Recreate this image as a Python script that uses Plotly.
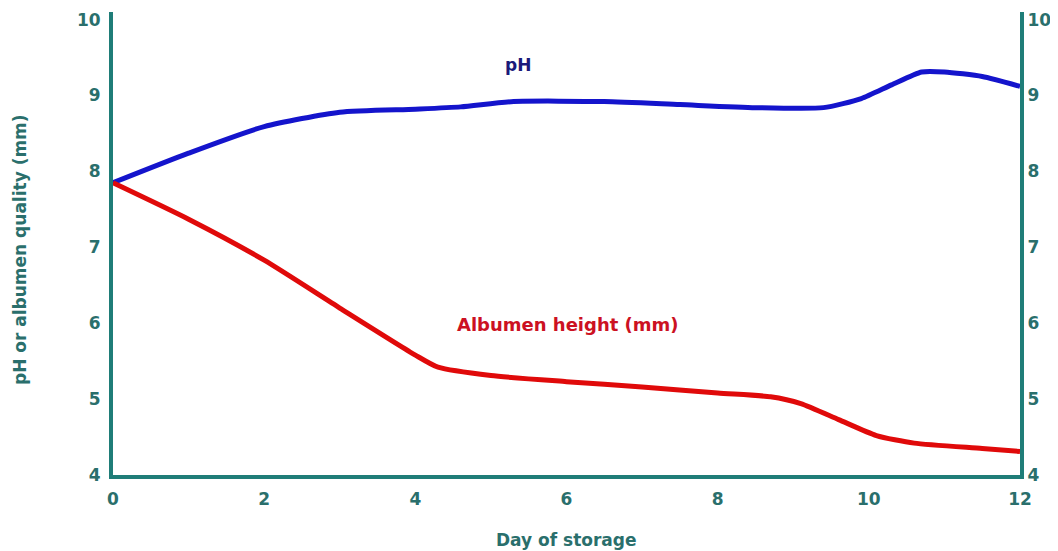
import plotly.graph_objects as go

# Data
ph_days = [0, 1, 2, 3, 4, 4.6, 5.3, 6.5, 7.5, 8.5, 9.4, 9.9, 10.3, 10.7, 11, 11.5, 12]
ph_values = [7.85, 8.24, 8.59, 8.78, 8.82, 8.85, 8.92, 8.92, 8.88, 8.84, 8.84, 8.96, 9.14, 9.31, 9.31, 9.25, 9.12]

alb_days = [0, 1, 2, 3, 4, 4.3, 5, 6, 7, 8, 8.7, 9.1, 9.6, 10.1, 10.6, 11.5, 12]
alb_values = [7.85, 7.37, 6.83, 6.2, 5.58, 5.42, 5.31, 5.23, 5.16, 5.08, 5.03, 4.94, 4.73, 4.52, 4.42, 4.35, 4.31]

x_ticks = [0, 2, 4, 6, 8, 10, 12]
y_ticks = [4, 5, 6, 7, 8, 9, 10]

TEAL = "#1f7d78"
LABEL = "#2a6f6c"
FONT = "DejaVu Sans"

fig = go.Figure()
fig.add_trace(go.Scatter(x=ph_days, y=ph_values, mode="lines",
                         line=dict(color="#1414cc", width=5, shape="spline", smoothing=0.6),
                         showlegend=False, hoverinfo="skip"))
fig.add_trace(go.Scatter(x=alb_days, y=alb_values, mode="lines",
                         line=dict(color="#e00a0a", width=5, shape="spline", smoothing=0.6),
                         showlegend=False, hoverinfo="skip"))
# invisible trace to anchor right axis
fig.add_trace(go.Scatter(x=[0], y=[4], yaxis="y2", mode="markers",
                         marker=dict(opacity=0), showlegend=False, hoverinfo="skip"))

tickfont = dict(family=FONT, size=17, color=LABEL, weight="bold")

fig.update_layout(
    width=1050, height=543,
    margin=dict(l=105, r=38, t=4, b=76),
    paper_bgcolor="white", plot_bgcolor="white",
    xaxis=dict(range=[0, 12], tickvals=x_ticks, ticks="", showgrid=False, zeroline=False,
               automargin=False,
               showline=True, linecolor=TEAL, linewidth=4, tickfont=tickfont, ticklabelstandoff=6),
    yaxis=dict(range=[4, 10.1], tickvals=y_ticks, ticks="", showgrid=False, zeroline=False,
               automargin=False,
               showline=True, linecolor=TEAL, linewidth=4, tickfont=tickfont, ticklabelstandoff=5),
    yaxis2=dict(range=[4, 10.1], tickvals=y_ticks, ticks="", showgrid=False, zeroline=False,
                overlaying="y", side="right", automargin=False,
                showline=True, linecolor=TEAL, linewidth=4, tickfont=tickfont, ticklabelstandoff=0),
    annotations=[
        dict(text="pH", x=5.36, y=9.4, xref="x", yref="y", showarrow=False,
             font=dict(family=FONT, size=17, color="#1a1a7a", weight="bold")),
        dict(text="Albumen height (mm)", x=6.02, y=5.98, xref="x", yref="y", showarrow=False,
             font=dict(family=FONT, size=18, color="#cc1122", weight="bold")),
        dict(text="pH or albumen quality (mm)", x=-0.1025, y=0.486, xref="paper", yref="paper",
             xanchor="center", yanchor="middle", textangle=-90, showarrow=False,
             font=dict(family=FONT, size=17, color=LABEL, weight="bold")),
        dict(text="Day of storage", x=0.5, y=-0.14, xref="paper", yref="paper",
             xanchor="center", yanchor="middle", showarrow=False,
             font=dict(family=FONT, size=17, color=LABEL, weight="bold")),
    ],
)

fig.write_html("out.html")
